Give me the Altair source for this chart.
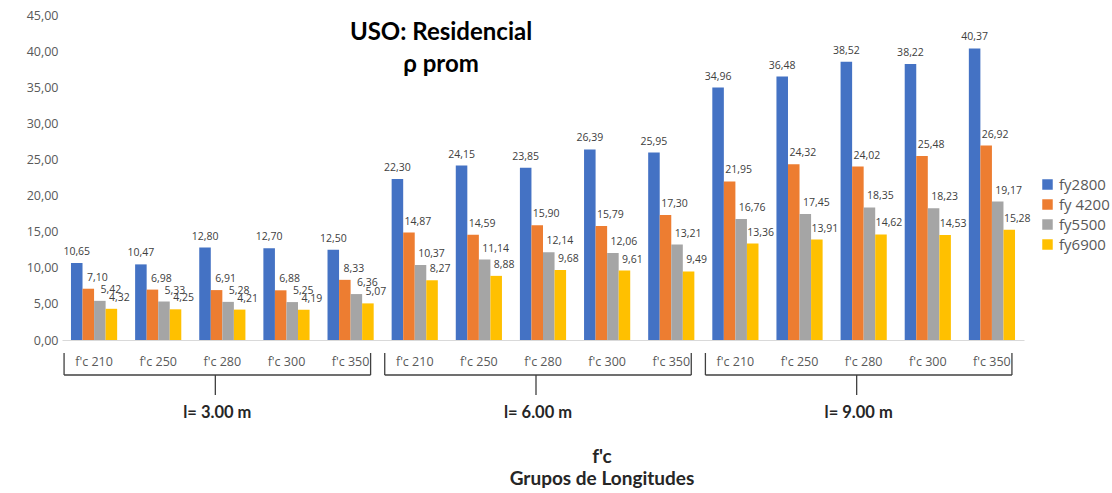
import altair as alt
import pandas as pd

groups = ["l= 3.00 m", "l= 6.00 m", "l= 9.00 m"]
fc_labels = ["f'c 210", "f'c 250", "f'c 280", "f'c 300", "f'c 350"]
series = ["fy2800", "fy 4200", "fy5500", "fy6900"]
colors = ["#4472C4", "#ED7D31", "#A5A5A5", "#FFC000"]
fy2800 = [10.65, 10.47, 12.80, 12.70, 12.50, 22.30, 24.15, 23.85, 26.39, 25.95, 34.96, 36.48, 38.52, 38.22, 40.37]
fy4200 = [7.10, 6.98, 6.91, 6.88, 8.33, 14.87, 14.59, 15.90, 15.79, 17.30, 21.95, 24.32, 24.02, 25.48, 26.92]
fy5500 = [5.42, 5.33, 5.28, 5.25, 6.36, 10.37, 11.14, 12.14, 12.06, 13.21, 16.76, 17.45, 18.35, 18.23, 19.17]
fy6900 = [4.32, 4.25, 4.21, 4.19, 5.07, 8.27, 8.88, 9.68, 9.61, 9.49, 13.36, 13.91, 14.62, 14.53, 15.28]
title_lines = ["USO: Residencial", "ρ prom"]
xtitle_lines = ["f'c", "Grupos de Longitudes"]
y_ticks = [0, 5, 10, 15, 20, 25, 30, 35, 40, 45]

FONT = "Open Sans"
BOLD_FONT = "Lato"

cats = [f"{g}|{f}" for g in groups for f in fc_labels]
rows = []
for s, vals in zip(series, [fy2800, fy4200, fy5500, fy6900]):
    for c, v in zip(cats, vals):
        rows.append({"cat": c, "series": s, "value": v,
                     "label": f"{v:.2f}".replace(".", ",")})
df = pd.DataFrame(rows)

gdf = pd.DataFrame({"group": groups, "first": cats[0::5], "mid": cats[2::5], "last": cats[4::5]})

W, H = 962, 325

xscale = alt.Scale(domain=cats, paddingInner=0.28, paddingOuter=0.14)
xaxis = alt.Axis(labelExpr="split(datum.label, '|')[1]", labelAngle=0, ticks=False,
                 domainColor="#D9D9D9", domainWidth=1, labelColor="#595959",
                 labelFontSize=12.5, labelFont=FONT, labelPadding=15, grid=False)


def X(field):
    return alt.X(f"{field}:N", scale=xscale, axis=xaxis, title=None)


xoff = alt.XOffset("series:N", scale=alt.Scale(domain=series, paddingInner=0, paddingOuter=0))
yenc = alt.Y("value:Q", scale=alt.Scale(domain=[0, 45], nice=False), title=None,
             axis=alt.Axis(values=y_ticks, grid=False, domain=False, ticks=False,
                           labelExpr="replace(format(datum.value, '.2f'), '.', ',')",
                           labelColor="#595959", labelFontSize=12.5, labelFont=FONT,
                           labelPadding=4))

base = alt.Chart(df)
bars = base.mark_bar().encode(
    x=X("cat"), xOffset=xoff, y=yenc,
    color=alt.Color("series:N", scale=alt.Scale(domain=series, range=colors),
                    legend=alt.Legend(title=None, orient="none", legendX=978, legendY=162,
                                      symbolType="square", symbolSize=110,
                                      symbolStrokeWidth=0, labelFontSize=15,
                                      labelFont=FONT, labelColor="#595959",
                                      rowPadding=4)),
)

label_dx = [0, 9, 11, 8]
texts = []
for s, dx in zip(series, label_dx):
    texts.append(
        base.transform_filter(alt.datum.series == s)
        .mark_text(baseline="bottom", dy=-6, dx=dx, fontSize=10.5, font=FONT, color="#404040")
        .encode(x=X("cat"), xOffset=xoff, y=yenc, text="label:N")
    )

gbase = alt.Chart(gdf)
rule_style = dict(color="#404040", strokeWidth=1.3)
left_v = gbase.mark_rule(xOffset=-30, **rule_style).encode(
    x=X("first"), y=alt.value(338), y2=alt.value(360))
right_v = gbase.mark_rule(xOffset=20, **rule_style).encode(
    x=X("last"), y=alt.value(338), y2=alt.value(360))
horiz = gbase.mark_rule(xOffset=-30, x2Offset=20, **rule_style).encode(
    x=X("first"), x2="last:N", y=alt.value(360))
tick = gbase.mark_rule(xOffset=-7, **rule_style).encode(
    x=X("mid"), y=alt.value(360), y2=alt.value(380))
glabel = gbase.mark_text(xOffset=-5, fontSize=16.5, font=BOLD_FONT, fontWeight="bold",
                         color="#262626", baseline="middle").encode(
    x=X("mid"), y=alt.value(398), text="group:N")


def free_text(txt, x, y, size, color):
    return alt.Chart(pd.DataFrame({"t": [txt]})).mark_text(
        fontSize=size, font=BOLD_FONT, fontWeight="bold", color=color, baseline="middle"
    ).encode(x=alt.value(x), y=alt.value(y), text="t:N")


t1 = free_text(title_lines[0], 379, 18, 24, "#000000")
t2 = free_text(title_lines[1], 379, 50, 24, "#000000")
a1 = free_text(xtitle_lines[0], 540, 442, 19, "#262626")
a2 = free_text(xtitle_lines[1], 540, 464, 19, "#262626")

chart = alt.layer(bars, *texts, left_v, right_v, horiz, tick, glabel, t1, t2, a1, a2).properties(
    width=W, height=H,
    autosize=alt.AutoSizeParams(type="none"),
    padding={"left": 62, "top": 15, "right": 1112 - 62 - W, "bottom": 493 - 15 - H},
).configure(font=FONT, background="white", view=alt.ViewConfig(stroke=None))

chart.save("out.html", embed_options={"renderer": "svg", "actions": False})
